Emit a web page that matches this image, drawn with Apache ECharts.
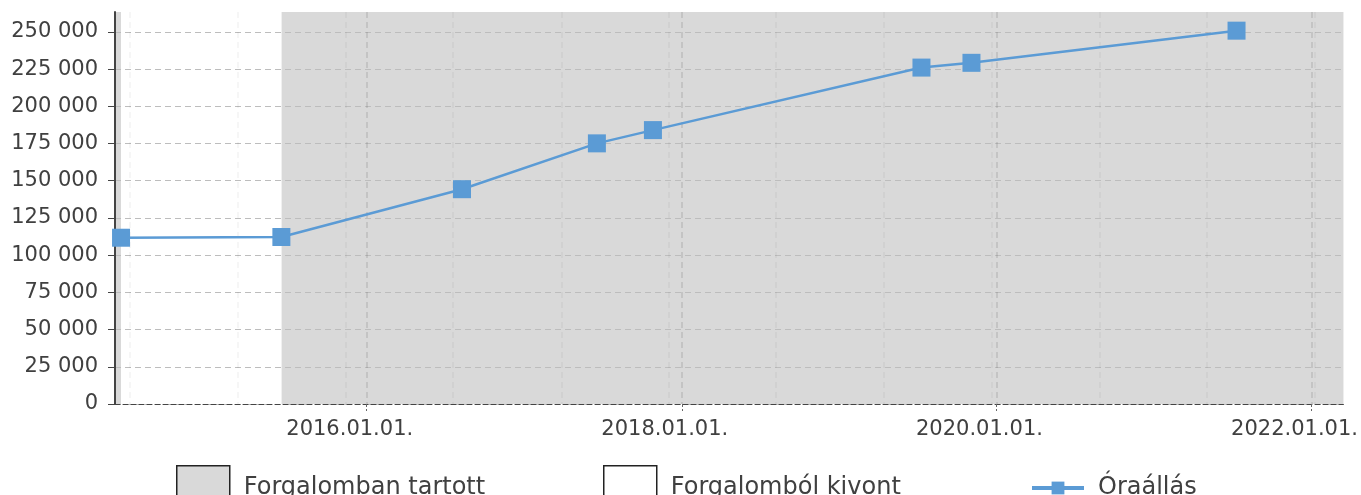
<!DOCTYPE html>
<html>
<head>
<meta charset="utf-8">
<script src="https://cdn.jsdelivr.net/npm/echarts@6/dist/echarts.min.js"></script>
<style>
html,body{margin:0;padding:0;background:#fff;}
#chart{width:1361px;height:495px;}
</style>
</head>
<body>
<div id="chart"></div>
<script>
// ---- data ----
const readingDates = ['2014-06-10','2015-06-17','2016-08-09','2017-06-18','2017-10-26','2019-07-11','2019-11-04','2021-07-11'];
const readingValues = [111700, 112200, 144300, 175100, 184000, 226000, 229200, 250800];
const inServicePeriods = [['2014-05-27','2014-06-10'], ['2015-06-17','2022-03-16']];
const outOfServicePeriods = [['2014-06-10','2015-06-17']];
const xStart = '2014-05-27';
const xEnd = '2022-03-16';
const xTickLabels = ['2016.01.01.','2018.01.01.','2020.01.01.','2022.01.01.'];
const xMinorGrid = ['2014-06-30','2015-03-08','2015-11-13','2016-07-18','2017-03-28','2017-12-01','2018-08-08','2019-04-14','2019-12-22','2020-08-27','2021-05-02','2022-01-08'];
const yTickValues = [0,25000,50000,75000,100000,125000,150000,175000,200000,225000,250000];
const seriesNames = ['Forgalomban tartott','Forgalomból kivont','Óraállás'];

// ---- helpers ----
const ts = s => Date.parse(s + 'T00:00:00Z');
const labelTs = l => Date.UTC(+l.slice(0,4), +l.slice(5,7)-1, +l.slice(8,10));
const pad = n => (n < 10 ? '0' : '') + n;
const fmtDate = v => { const d = new Date(v); return d.getUTCFullYear() + '.' + pad(d.getUTCMonth()+1) + '.' + pad(d.getUTCDate()) + '.'; };
const fmtNum = v => String(Math.round(v)).replace(/\B(?=(\d{3})+(?!\d))/g, ' ');

const xMin = ts(xStart), xMax = ts(xEnd);
const majorTicks = xTickLabels.map(labelTs);
const minorTicks = xMinorGrid.map(ts);
const yMax = Math.max(...readingValues) * 1.05;
const FONT = 'DejaVu Sans';
const TXT = '#404040';

const chart = echarts.init(document.getElementById('chart'), null, {renderer: 'canvas'});
chart.setOption({
  animation: false,
  backgroundColor: '#fff',
  textStyle: {fontFamily: FONT},
  grid: {left: 115, right: 17, top: 12, bottom: 91, containLabel: false},
  xAxis: [{
    type: 'value', min: xMin, max: xMax, z: 2,
    axisLine: {show: true, lineStyle: {color: '#444', width: 1, type: [5,3]}},
    axisTick: {show: true, length: 7, customValues: majorTicks, lineStyle: {color: '#666', width: 1, type: [3,2]}},
    axisLabel: {customValues: majorTicks, formatter: fmtDate, color: TXT, fontSize: 21, fontFamily: FONT, margin: 15, padding: [0, 34, 0, 0]},
    splitLine: {show: true, lineStyle: {color: 'rgba(0,0,0,0.13)', width: 1.5, type: [6,4]}}
  }, {
    type: 'value', min: xMin, max: xMax, z: 2, position: 'top',
    axisLine: {show: false},
    axisTick: {show: false, customValues: minorTicks},
    axisLabel: {show: false, customValues: minorTicks},
    splitLine: {show: true, lineStyle: {color: 'rgba(0,0,0,0.05)', width: 1.5, type: [6,4]}}
  }],
  yAxis: {
    type: 'value', min: 0, max: yMax, z: 2,
    axisLine: {show: true, lineStyle: {color: '#444', width: 2}},
    axisTick: {show: true, length: 7, customValues: yTickValues, lineStyle: {color: '#444', width: 1}},
    axisLabel: {customValues: yTickValues, formatter: fmtNum, color: TXT, fontSize: 21, fontFamily: FONT, margin: 17, padding: [4,0,0,0]},
    splitLine: {show: true, lineStyle: {color: '#bdbdbd', width: 1, type: [6,4]}}
  },
  legend: [{
    left: 176, top: 465, padding: 0, itemWidth: 53, itemHeight: 44, selectedMode: false,
    textStyle: {color: TXT, fontSize: 24, fontFamily: FONT, padding: [0,0,0,9]},
    data: [{name: seriesNames[0], icon: 'rect', itemStyle: {color: '#d9d9d9', borderColor: '#222', borderWidth: 1.5}}]
  }, {
    left: 603, top: 465, padding: 0, itemWidth: 53, itemHeight: 44, selectedMode: false,
    textStyle: {color: TXT, fontSize: 24, fontFamily: FONT, padding: [0,0,0,9]},
    data: [{name: seriesNames[1], icon: 'rect', itemStyle: {color: '#ffffff', borderColor: '#222', borderWidth: 1.5}}]
  }, {
    left: 1030, top: 476, padding: 0, itemWidth: 52, itemHeight: 16, selectedMode: false,
    lineStyle: {width: 4},
    textStyle: {color: TXT, fontSize: 24, fontFamily: FONT, padding: [6,0,0,9]},
    data: [seriesNames[2]]
  }],
  series: [{
    name: seriesNames[0], type: 'line', data: [], silent: true,
    markArea: {silent: true, z: 1, itemStyle: {color: '#d9d9d9'},
      data: inServicePeriods.map(p => [{xAxis: ts(p[0])}, {xAxis: ts(p[1])}])}
  }, {
    name: seriesNames[1], type: 'line', data: [], silent: true,
    markArea: {silent: true, z: 1, itemStyle: {color: '#ffffff'},
      data: outOfServicePeriods.map(p => [{xAxis: ts(p[0])}, {xAxis: ts(p[1])}])}
  }, {
    name: seriesNames[2], type: 'line', z: 5,
    data: readingDates.map((d, i) => [ts(d), readingValues[i]]),
    symbol: 'rect', symbolSize: 18,
    itemStyle: {color: '#5b9bd5'},
    lineStyle: {color: '#5b9bd5', width: 2.5}
  }]
});
</script>
</body>
</html>
